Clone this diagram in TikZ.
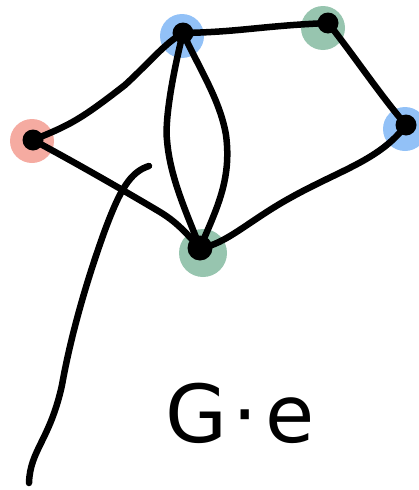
\documentclass[tikz,border=0pt]{standalone}
\usepackage{fontspec}
\setmainfont{DejaVu Sans}
\definecolor{blobred}{HTML}{F5ABA1}
\definecolor{blobblue}{HTML}{92C1F7}
\definecolor{blobgreen}{HTML}{97C5AF}
\tikzset{
  blob/.style={circle, inner sep=0pt, minimum size=44pt, fill=#1},
  vdot/.style={circle, inner sep=0pt, minimum size=21pt, fill=black},
  stroke/.style={line width=6.5pt, line cap=round, line join=round, black},
}
\begin{document}
\begin{tikzpicture}[x=1pt, y=-1pt]
\useasboundingbox (0,0) rectangle (418,490);
% colour blobs
\node[blob=blobred]   (br) at (32,141) {};
\node[blob=blobblue]  (bb) at (182,36) {};
\node[blob=blobgreen] (bg) at (323,28) {};
\node[blob=blobblue]  (bbr) at (405,129) {};
\node[blob=blobgreen,minimum size=48pt] (bgb) at (203,253) {};
% vertex dots
\node[vdot] (r) at (33,140) {};
\node[vdot] (t) at (183,33) {};
\node[vdot] (g) at (328,23) {};
\node[vdot] (b) at (406,125) {};
\node[vdot,minimum size=25pt] (m) at (200,248) {};
% edges
\draw[stroke] (r.center) .. controls (70,125) and (80,120) .. (125,85) .. controls (150,62) and (165,43) .. (t.center);
\draw[stroke] (r.center) .. controls (80,165) and (140,200) .. (160,212) .. controls (180,224) and (190,238) .. (m.center);
\draw[stroke] (t.center) .. controls (170,85) and (165,125) .. (167,140) .. controls (170,180) and (190,220) .. (m.center);
\draw[stroke] (t.center) .. controls (200,70) and (220,100) .. (226,135) .. controls (232,180) and (216,210) .. (m.center);
\draw[stroke] (t.center) .. controls (240,32) and (260,26) .. (g.center);
\draw[stroke] (g.center) .. controls (350,50) and (380,95) .. (b.center);
\draw[stroke] (b.center) .. controls (380,160) and (340,170) .. (290,198) .. controls (250,220) and (225,245) .. (m.center);
% long stroke
\coordinate (s1) at (149,166);
\coordinate (s2) at (29,483);
\draw[stroke] (s1) .. controls (130,172) and (120,190) .. (105,230) .. controls (85,285) and (70,340) .. (62,385) .. controls (50,440) and (30,450) .. (s2);
% label
\node[font=\fontsize{80}{80}\selectfont] (lbl) at (240,413) {G\kern5pt·\kern8pte};
\end{tikzpicture}
\end{document}
